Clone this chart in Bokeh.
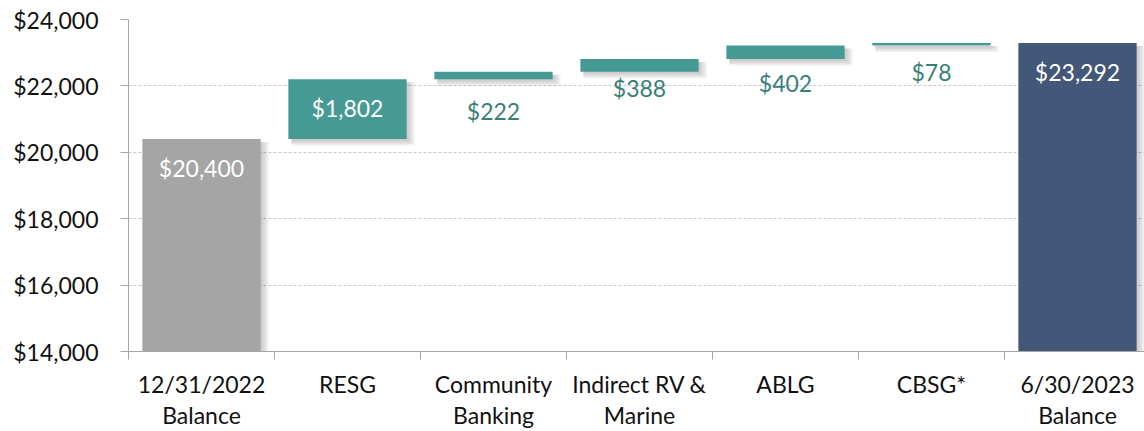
from bokeh.plotting import figure
from bokeh.models import FixedTicker, NumeralTickFormatter, ColumnDataSource, Range1d
from bokeh.core.properties import value
from bokeh.embed import file_html
from bokeh.resources import INLINE

# ---- data ----
categories = ["12/31/2022\nBalance", "RESG", "Community\nBanking", "Indirect RV &\nMarine",
              "ABLG", "CBSG*", "6/30/2023\nBalance"]
start_balance = 20400
changes = [1802, 222, 388, 402, 78]
end_balance = 23292
labels = ["$20,400", "$1,802", "$222", "$388", "$402", "$78", "$23,292"]
y_ticks = [14000, 16000, 18000, 20000, 22000, 24000]

# ---- styling ----
FONT = "Lato"
GRAY = "#A5A5A5"
TEAL = "#459A94"
NAVY = "#435878"
TEAL_TXT = "#3A7F78"
label_dy = [29, 29, 39, 29, 37, 29, 29]       # pixel offsets of value labels below bar tops
label_colors = ["white", "white", TEAL_TXT, TEAL_TXT, TEAL_TXT, TEAL_TXT, "white"]

# waterfall geometry from data
bottoms, tops = [], []
y0 = 14000
bottoms.append(y0); tops.append(start_balance)
run = start_balance
for c in changes:
    bottoms.append(run); tops.append(run + c); run += c
bottoms.append(y0); tops.append(end_balance)
colors = [GRAY] + [TEAL] * len(changes) + [NAVY]
n = len(categories)
xc = [i + 0.5 for i in range(n)]
BW = 0.81

W, H = 1144, 431
BL, BT, BB = 128, 19, 80
FW, FH = W - BL, H - BT - BB
x_end = FW / 146.0
px_x = x_end / FW
px_y = (y_ticks[-1] - y_ticks[0]) / FH

p = figure(width=W, height=H, output_backend="svg", toolbar_location=None,
           x_range=Range1d(0, x_end), y_range=Range1d(y_ticks[0], y_ticks[-1]),
           min_border_left=BL, min_border_right=0, min_border_top=BT, min_border_bottom=BB)
p.outline_line_color = None
p.xgrid.grid_line_color = None
p.ygrid.ticker = FixedTicker(ticks=y_ticks)
p.ygrid.grid_line_color = "#C8C8C8"
p.ygrid.grid_line_dash = "3 2"
p.ygrid.grid_line_width = 1

# shadows
for k in range(4):
    p.quad(left=[x - BW / 2 + 3 * px_x for x in xc],
           right=[x + BW / 2 + (2 + 2 * k) * px_x for x in xc],
           bottom=[b - (2 + 1.5 * k) * px_y for b in bottoms],
           top=[t - 3 * px_y for t in tops],
           fill_color="#606060", fill_alpha=0.09, line_color=None)

src = ColumnDataSource(dict(x=xc, top=tops, bottom=bottoms, color=colors,
                            label=labels, dy=label_dy, lc=label_colors))
p.vbar(x="x", top="top", bottom="bottom", width=BW, fill_color="color", line_color=None, source=src)
p.text(x="x", y="top", text="label", y_offset="dy", text_color="lc", source=src,
       text_font=value(FONT), text_font_size="23px", text_align="center", text_baseline="middle")

# y axis
ya = p.yaxis[0]
ya.ticker = FixedTicker(ticks=y_ticks)
ya.formatter = NumeralTickFormatter(format="$0,0")
ya.major_tick_out = 8
ya.major_tick_in = 0
ya.minor_tick_out = 0
ya.minor_tick_in = 0
ya.axis_line_color = "#A6A6A6"
ya.major_tick_line_color = "#A6A6A6"
ya.major_label_text_font = FONT
ya.major_label_text_font_size = "23px"
ya.major_label_text_color = "#111111"
ya.major_label_standoff = 22

# x axis: labels at category centres, boundary ticks as minor ticks
xa = p.xaxis[0]
xa.ticker = FixedTicker(ticks=xc, minor_ticks=list(range(n + 1)))
xa.major_label_overrides = {x: c for x, c in zip(xc, categories)}
xa.major_tick_out = 0
xa.major_tick_in = 0
xa.minor_tick_out = 8
xa.minor_tick_in = 0
xa.minor_tick_line_color = "#A6A6A6"
xa.axis_line_color = "#A6A6A6"
xa.major_label_text_font = FONT
xa.major_label_text_font_size = "23px"
xa.major_label_text_color = "#111111"
xa.major_label_text_line_height = 1.12
xa.major_label_standoff = 10

open("out.html", "w").write(file_html(p, INLINE))
